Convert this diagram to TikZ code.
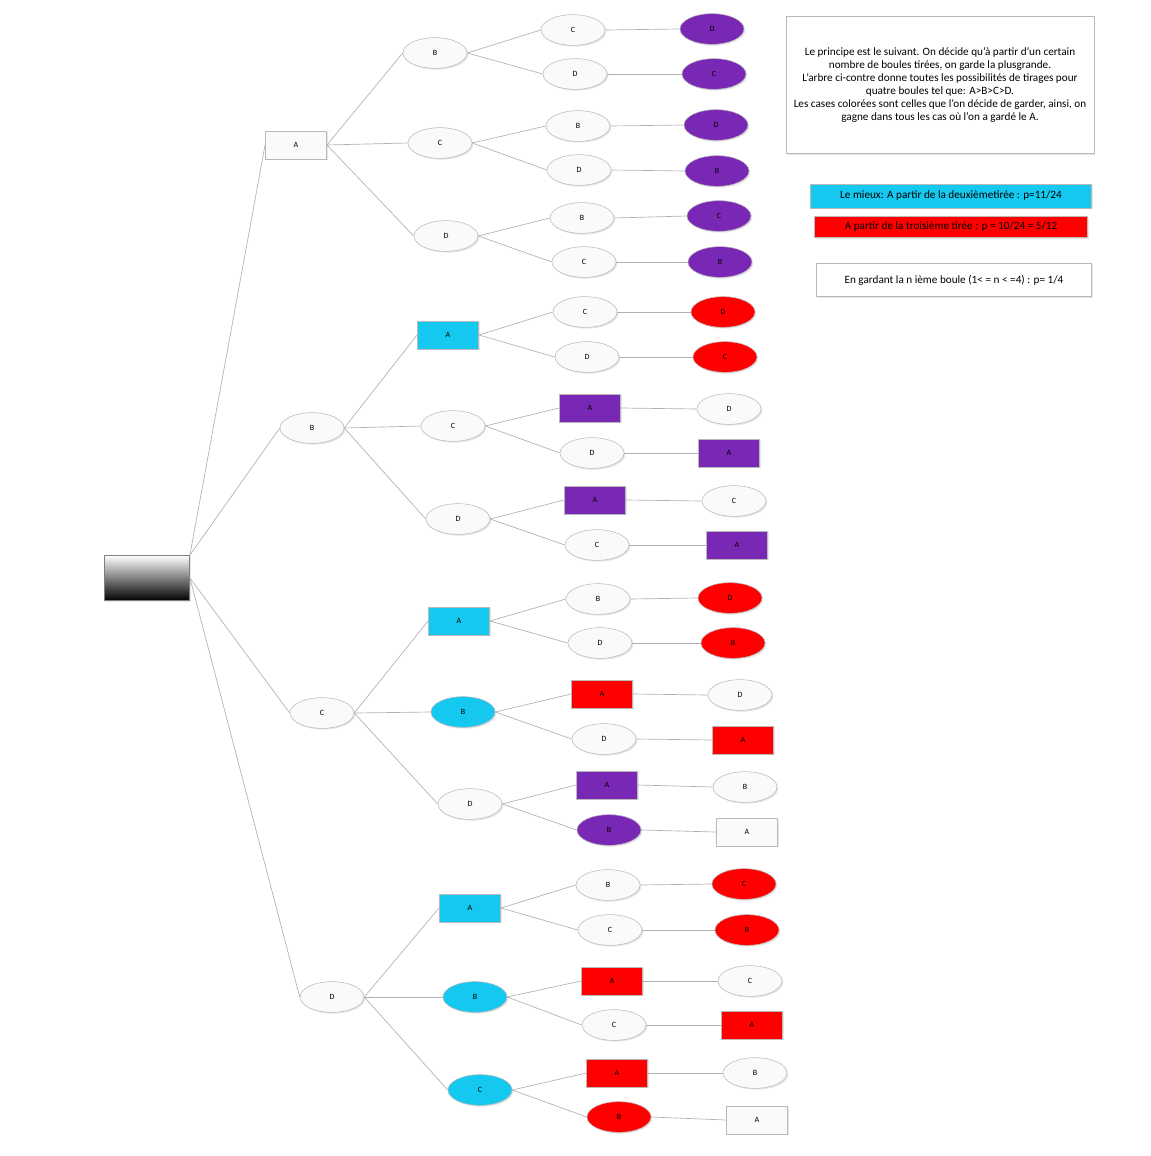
\documentclass[tikz,border=0pt]{standalone}
\usepackage{fontspec}
\setmainfont{Carlito}
\usetikzlibrary{shapes,shadows}

\definecolor{tirCyan}{RGB}{20,200,240}
\definecolor{tirRed}{RGB}{255,0,0}
\definecolor{tirPurple}{RGB}{120,40,180}
\definecolor{tirEdge}{RGB}{185,185,185}
\definecolor{tirLine}{RGB}{175,175,185}

\begin{document}
\begin{tikzpicture}[
  x=0.75pt,
  y=-0.75pt,
  oval/.style={
    ellipse,
    draw=tirEdge,
    fill=white!96!gray,
    minimum width=48pt,
    minimum height=23pt,
    inner sep=0pt,
    font=\fontsize{6}{7}\selectfont,
    drop shadow={opacity=0.2,shadow xshift=1pt,shadow yshift=-1pt}
  },
  box/.style={
    rectangle,
    draw=tirEdge,
    fill=white!96!gray,
    minimum width=46pt,
    minimum height=21pt,
    inner sep=0pt,
    font=\fontsize{6}{7}\selectfont,
    drop shadow={opacity=0.2,shadow xshift=1pt,shadow yshift=-1pt}
  },
  infobox/.style={
    rectangle,
    draw=tirEdge,
    inner sep=0pt,
    align=center,
    font=\fontsize{8.4}{9.8}\selectfont,
    drop shadow={opacity=0.2,shadow xshift=1pt,shadow yshift=-1pt}
  },
  link/.style={
    draw=tirLine,
    line width=0.5pt
  }
]
\useasboundingbox (0,0) rectangle (1151,1156);

% Root
\node[box, minimum width=64pt, minimum height=34pt, top color=white, bottom color=black, draw=gray] (r) at (147,578) {};

% First draw
\node[box] (a) at (296,145) {A};
\node[oval] (b) at (312,428) {B};
\node[oval] (c) at (322,713) {C};
\node[oval] (d) at (332,997) {D};

% Second draw
\node[oval] (ab) at (435,53) {B};
\node[oval] (ac) at (440,143) {C};
\node[oval] (ad) at (446,236) {D};
\node[box, fill=tirCyan] (ba) at (448,335) {A};
\node[oval] (bc) at (453,426) {C};
\node[oval] (bd) at (458,519) {D};
\node[box, fill=tirCyan] (ca) at (459,621) {A};
\node[oval, fill=tirCyan] (cb) at (463,712) {B};
\node[oval] (cd) at (470,804) {D};
\node[box, fill=tirCyan] (da) at (470,908) {A};
\node[oval, fill=tirCyan] (db) at (475,997) {B};
\node[oval, fill=tirCyan] (dc) at (480,1090) {C};

% Third draw
\node[oval] (abc) at (573,30) {C};
\node[oval] (abd) at (575,74) {D};
\node[oval] (acb) at (578,126) {B};
\node[oval] (acd) at (579,170) {D};
\node[oval] (adb) at (582,218) {B};
\node[oval] (adc) at (584,262) {C};
\node[oval] (bac) at (585,312) {C};
\node[oval] (bad) at (587,357) {D};
\node[box, fill=tirPurple] (bca) at (590,408) {A};
\node[oval] (bcd) at (592,453) {D};
\node[box, fill=tirPurple] (bda) at (595,500) {A};
\node[oval] (bdc) at (597,545) {C};
\node[oval] (cab) at (598,599) {B};
\node[oval] (cad) at (600,643) {D};
\node[box, fill=tirRed] (cba) at (602,694) {A};
\node[oval] (cbd) at (604,739) {D};
\node[box, fill=tirPurple] (cda) at (607,785) {A};
\node[oval, fill=tirPurple] (cdb) at (609,830) {B};
\node[oval] (dab) at (608,885) {B};
\node[oval] (dac) at (610,930) {C};
\node[box, fill=tirRed] (dba) at (612,981) {A};
\node[oval] (dbc) at (614,1025) {C};
\node[box, fill=tirRed] (dca) at (617,1073) {A};
\node[oval, fill=tirRed] (dcb) at (619,1117) {B};

% Fourth draw
\node[oval, fill=tirPurple] (abcd) at (712,29) {D};
\node[oval, fill=tirPurple] (abdc) at (714,74) {C};
\node[oval, fill=tirPurple] (acbd) at (716,125) {D};
\node[oval, fill=tirPurple] (acdb) at (717,171) {B};
\node[oval, fill=tirPurple] (adbc) at (719,216) {C};
\node[oval, fill=tirPurple] (adcb) at (720,262) {B};
\node[oval, fill=tirRed] (bacd) at (723,312) {D};
\node[oval, fill=tirRed] (badc) at (725,357) {C};
\node[oval] (bcad) at (729,409) {D};
\node[box, fill=tirPurple] (bcda) at (729,453) {A};
\node[oval] (bdac) at (734,501) {C};
\node[box, fill=tirPurple] (bdca) at (737,545) {A};
\node[oval, fill=tirRed] (cabd) at (730,598) {D};
\node[oval, fill=tirRed] (cadb) at (733,643) {B};
\node[oval] (cbad) at (740,695) {D};
\node[box, fill=tirRed] (cbda) at (743,740) {A};
\node[oval] (cdab) at (745,787) {B};
\node[box] (cdba) at (747,832) {A};
\node[oval, fill=tirRed] (dabc) at (744,884) {C};
\node[oval, fill=tirRed] (dacb) at (747,930) {B};
\node[oval] (dbac) at (750,981) {C};
\node[box, fill=tirRed] (dbca) at (752,1025) {A};
\node[oval] (dcab) at (755,1073) {B};
\node[box] (dcba) at (757,1120) {A};

% Explanations
\node[infobox, fill=white, minimum width=231pt, minimum height=103pt] (txt) at (940,85)
  {Le principe est le suivant. On décide qu'à partir d'un certain\\
   nombre de boules tirées, on garde la plusgrande.\\
   L'arbre ci-contre donne toutes les possibilités de tirages pour\\
   quatre boules tel que: A>B>C>D.\\
   Les cases colorées sont celles que l'on décide de garder, ainsi, on\\
   gagne dans tous les cas où l'on a gardé le A.};
\node[infobox, fill=tirCyan, minimum width=211pt, minimum height=18pt] (best) at (951,196)
  {Le mieux: A partir de la deuxièmetirée : p=11/24};
\node[infobox, fill=tirRed, minimum width=205pt, minimum height=16pt] (third) at (951,227)
  {A partir de la troisième tirée : p = 10/24 = 5/12};
\node[infobox, fill=white, minimum width=206pt, minimum height=25pt] (nth) at (954,280)
  {En gardant la n ième boule (1< = n < =4) : p= 1/4};

% Lines of the tree
\foreach \n in {a,b} \draw[link] (r.north east) -- (\n.west);
\foreach \n in {c,d} \draw[link] (r.east) -- (\n.west);
\foreach \p/\n in {a/ab,a/ac,a/ad,b/ba,b/bc,b/bd,c/ca,c/cb,c/cd,d/da,d/db,d/dc}
  \draw[link] (\p.east) -- (\n.west);
\foreach \p/\n in {ab/abc,ab/abd,ac/acb,ac/acd,ad/adb,ad/adc,ba/bac,ba/bad,bc/bca,bc/bcd,bd/bda,bd/bdc,
                   ca/cab,ca/cad,cb/cba,cb/cbd,cd/cda,cd/cdb,da/dab,da/dac,db/dba,db/dbc,dc/dca,dc/dcb}
  \draw[link] (\p.east) -- (\n.west);
\foreach \p/\n in {abc/abcd,abd/abdc,acb/acbd,acd/acdb,adb/adbc,adc/adcb,bac/bacd,bad/badc,bca/bcad,bcd/bcda,bda/bdac,bdc/bdca,
                   cab/cabd,cad/cadb,cba/cbad,cbd/cbda,cda/cdab,cdb/cdba,dab/dabc,dac/dacb,dba/dbac,dbc/dbca,dca/dcab,dcb/dcba}
  \draw[link] (\p.east) -- (\n.west);

\end{tikzpicture}
\end{document}
